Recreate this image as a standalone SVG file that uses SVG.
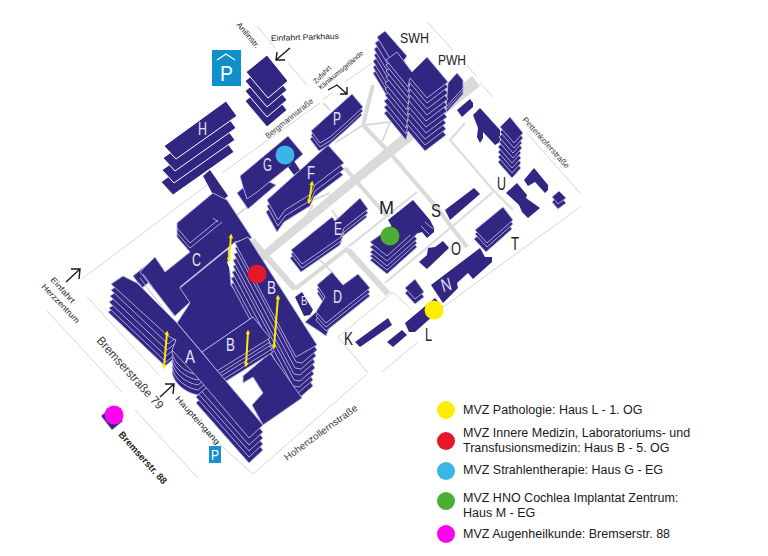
<svg xmlns="http://www.w3.org/2000/svg" xmlns:xlink="http://www.w3.org/1999/xlink" width="768" height="556" viewBox="0 0 768 556">
<style>
text{font-family:"Liberation Sans",Arial,sans-serif}
.b polygon,.b path{fill:#312783;stroke:#b9b5df;stroke-width:.9;stroke-linejoin:round}
.w polygon{fill:#312783;stroke:#fff;stroke-width:1;stroke-linejoin:round}
.n polygon{fill:#312783;stroke:none}
.h{fill:none;stroke:#b9b5df;stroke-width:.9}
.rt{fill:none;stroke:#dadada;stroke-width:6}
.rm{fill:none;stroke:#dadada;stroke-width:4}
.r2{fill:none;stroke:#dcdcdc;stroke-width:2}
.rn{fill:none;stroke:#d6d6d6;stroke-width:1}
.ar{fill:none;stroke:#1a1a1a;stroke-width:1.4}
.y{stroke:#ffed00;stroke-width:2;marker-start:url(#ya);marker-end:url(#ya)}
.l{fill:#e4e2f2;font-size:18px}
.o{fill:#222;font-size:18px}
.s{fill:#3a3a3a;font-size:8px}
.lg{fill:#1a1a1a;font-size:12.5px}
</style>
<defs><marker id="ya" viewBox="0 0 6 6" refX="3" refY="3" markerWidth="2.4" markerHeight="2.4" orient="auto-start-reverse"><path d="M0 0L6 3L0 6Z" fill="#ffed00"/></marker></defs>
<rect width="768" height="556" fill="#fff"/>
<g id="connectors">
<path d="M472 76L480 86L400 150L362 180L262 262L257 256Z" fill="#dadada"/>
<path class="rt" d="M252 240L295 289"/>
<path class="rm" d="M295 289L348 248"/>
<path class="rm" d="M363 125L390 153L437 208L467 247"/>
<path class="rm" d="M345 168L370 197L388 217"/>
<path class="rt" d="M348 250L388 294"/>
<path class="rm" d="M363 125L373 85"/>
<path class="r2" d="M365 125L390 122L382 142M335 143L363 125"/>
<path class="r2" d="M348 247L417 192M385 283L493 192"/>
<path class="r2" d="M450 140L493 190L513 210M450 140L465 123"/>
<path class="r2" d="M308 202L330 193M300 228L313 205M332 210L340 222M237 215L265 193M323 103L330 110M317 257L333 273"/>
<path class="rn" d="M427 22L453 50M465 63L477 77M480 83L493 97M527 133L580 193M580 207L435 313M418 342L382 372M368 373L338 337L393 292L412 310"/>
<path class="rn" d="M257 26L275 48M288 63L307 85M345 82L372 63M323 100L332 93M222 173L320 103M82 279L207 185M87 297L159 375M47 311L122 392M135 410L198 478M207 433L253 474L366 375"/>
</g>
<g id="haus-h" class="w">
<polygon points="164,146 226,101 237,116 176,159" transform="translate(-3,36)"/>
<polygon points="164,146 226,101 237,116 176,159" transform="translate(-2,24)"/>
<polygon points="164,146 226,101 237,116 176,159" transform="translate(-1,12)"/>
<polygon points="164,146 226,101 237,116 176,159"/>
</g>
<g class="n"><polygon points="203,176 210,170 228,196 218,204"/></g>
<g id="parkhaus" class="w">
<polygon points="246,72 267,55 288,81 268,98" transform="translate(-1,29)"/>
<polygon points="246,72 267,55 288,81 268,98" transform="translate(-1,19)"/>
<polygon points="246,72 267,55 288,81 268,98" transform="translate(-1,9)"/>
<polygon points="246,72 267,55 288,81 268,98"/>
</g>
<g id="haus-g" class="b">
<polygon points="237,193 257,176 276,185 248,209"/>
<polygon points="240,176 288,136 303,154 293,163 257,192 247,199 243,187"/>
</g>
<g class="n"><polygon points="288,167 294,161 300,170 294,175"/></g>
<g id="haus-f" class="b">
<polygon points="267,200 328,145 344,163 315,185 311,194 285,210 278,220" transform="translate(-1,12)"/>
<polygon points="267,200 328,145 344,163 315,185 311,194 285,210 278,220" transform="translate(0,6)"/>
<polygon points="267,200 328,145 344,163 315,185 311,194 285,210 278,220"/>
</g>
<g id="haus-p" class="b">
<polygon points="311,131 352,94 363,107 347,122 330,137 320,143" transform="translate(-1,8)"/>
<polygon points="311,131 352,94 363,107 347,122 330,137 320,143" transform="translate(0,4)"/>
<polygon points="311,131 352,94 363,107 347,122 330,137 320,143"/>
</g>
<g id="haus-e" class="b">
<polygon points="291,250 332,217 335,221 360,198 368,209 344,228 341,237 302,264" transform="translate(-1,8)"/>
<polygon points="291,250 332,217 335,221 360,198 368,209 344,228 341,237 302,264" transform="translate(0,4)"/>
<polygon points="291,250 332,217 335,221 360,198 368,209 344,228 341,237 302,264"/>
</g>
<g id="haus-d" class="b">
<polygon points="305,322 316,312 340,300 326,336 319,331"/>
<polygon points="317,285 332,272 343,285 358,274 370,288 326,323 316,312 325,297" transform="translate(0,8)"/>
<polygon points="317,285 332,272 343,285 358,274 370,288 326,323 316,312 325,297" transform="translate(0,4)"/>
<polygon points="317,285 332,272 343,285 358,274 370,288 326,323 316,312 325,297"/>
</g>
<g class="n"><polygon points="295,297 302,292 313,310 310,315 304,316"/></g>
<g id="haus-m" class="b">
<polygon points="370,242 380,235 405,215 417,229 387,256" transform="translate(0,18)"/>
<polygon points="370,242 380,235 405,215 417,229 387,256" transform="translate(0,14)"/>
<polygon points="370,242 380,235 405,215 417,229 387,256" transform="translate(0,10)"/>
<polygon points="370,242 380,235 405,215 417,229 387,256" transform="translate(0,5)"/>
<polygon points="370,242 380,235 405,215 417,229 387,256"/>
<polygon points="388,220 413,200 430,220 434,228 434,232 427,238 422,232 412,235 395,232" style="stroke:none"/>
</g>
<path class="h" d="M425 222L433 229M421 226L429 234"/>
<g id="kleine" class="n">
<polygon points="445,210 474,188 480,194 450,220"/>
<polygon points="419,262 427,255 428,248 435,247 443,241 449,248 427,269"/>
<polygon points="355,342 388,318 392,325 360,347"/>
<polygon points="387,342 402,330 407,335 393,347"/>
<polygon points="405,323 435,298 443,307 415,332 409,332"/>
<polygon points="431,285 480,248 485,257 492,257 492,262 473,279 468,273 457,283 458,288 443,303"/>
<polygon points="457,110 470,99 473,103 473,107 462,117"/>
<polygon points="473,115 480,108 500,130 500,142 495,145 483,132 483,138 480,143 477,137 478,128"/>
<polygon points="506,193 517,183 527,195 526,198 540,208 528,218 522,212 519,205"/>
<polygon points="524,180 534,168 548,185 548,190 545,193 535,182 528,186"/>
</g>
<g id="kleine-2" class="b">
<polygon points="405,293 415,284 424,297 415,304"/>
<polygon points="405,288 415,279 424,292 415,299"/>
<polygon points="552,202 559,195 566,203 558,209"/>
<polygon points="552,197 559,191 566,198 558,204"/>
</g>
<g id="haus-t" class="b">
<polygon points="475,230 503,207 513,220 487,243" transform="translate(-1,9)"/>
<polygon points="475,230 503,207 513,220 487,243" transform="translate(0,4)"/>
<polygon points="475,230 503,207 513,220 487,243"/>
</g>
<g id="haus-u" class="b">
<polygon points="500,127 510,117 523,133 514,143" transform="translate(-2,35)"/>
<polygon points="500,127 510,117 523,133 514,143" transform="translate(-2,30)"/>
<polygon points="500,127 510,117 523,133 514,143" transform="translate(-2,25)"/>
<polygon points="500,127 510,117 523,133 514,143" transform="translate(-2,20)"/>
<polygon points="500,127 510,117 523,133 514,143" transform="translate(-1,15)"/>
<polygon points="500,127 510,117 523,133 514,143" transform="translate(-1,10)"/>
<polygon points="500,127 510,117 523,133 514,143" transform="translate(0,5)"/>
<polygon points="500,127 510,117 523,133 514,143"/>
</g>
<g id="swh" class="b">
<polygon points="377,37 385,31 407,56 397,70" transform="translate(-4,36)"/>
<polygon points="377,37 385,31 407,56 397,70" transform="translate(-4,30)"/>
<polygon points="377,37 385,31 407,56 397,70" transform="translate(-4,24)"/>
<polygon points="377,37 385,31 407,56 397,70" transform="translate(-3,18)"/>
<polygon points="377,37 385,31 407,56 397,70" transform="translate(-3,12)"/>
<polygon points="377,37 385,31 407,56 397,70" transform="translate(-2,6)"/>
<polygon points="377,37 385,31 407,56 397,70"/>
</g>
<g id="pwh" class="b">
<polygon points="448,83 457,73 463,80 463,88 446,107" transform="translate(0,6)"/>
<polygon points="448,83 457,73 463,80 463,88 446,107" transform="translate(0,3)"/>
<polygon points="448,83 457,73 463,80 463,88 446,107"/>
<polygon points="386,60 397,52 412,72 427,57 448,82 427,98 410,78 408,87" transform="translate(-2,53)"/>
<polygon points="386,60 397,52 412,72 427,57 448,82 427,98 410,78 408,87" transform="translate(-2,47)"/>
<polygon points="386,60 397,52 412,72 427,57 448,82 427,98 410,78 408,87" transform="translate(-2,41)"/>
<polygon points="386,60 397,52 412,72 427,57 448,82 427,98 410,78 408,87" transform="translate(-1,35)"/>
<polygon points="386,60 397,52 412,72 427,57 448,82 427,98 410,78 408,87" transform="translate(-1,29)"/>
<polygon points="386,60 397,52 412,72 427,57 448,82 427,98 410,78 408,87" transform="translate(-1,23)"/>
<polygon points="386,60 397,52 412,72 427,57 448,82 427,98 410,78 408,87" transform="translate(0,17)"/>
<polygon points="386,60 397,52 412,72 427,57 448,82 427,98 410,78 408,87" transform="translate(0,11)"/>
<polygon points="386,60 397,52 412,72 427,57 448,82 427,98 410,78 408,87" transform="translate(0,5)"/>
<polygon points="386,60 397,52 412,72 427,57 448,82 427,98 410,78 408,87"/>
</g>
<g id="haus-c" class="b">
<polygon points="133,276 155,258 164,270 142,288"/>
<polygon points="177,223 213,193 227,200 252,238 235,242 180,287 190,302 175,316 140,272 155,257 165,272 190,252 177,237"/>
</g>
<path class="h" d="M177 228L190 243L218 220M177 233L190 248L222 222M213 218L218 222M143 274L174 316M140 278L172 320M139 283L171 325M133 283L165 327"/>
<g id="haus-a-fluegel" class="b">
<polygon points="111,284 123,276 178,330 168,338" transform="translate(-3,28)"/>
<polygon points="111,284 123,276 178,330 168,338" transform="translate(-2,24)"/>
<polygon points="111,284 123,276 178,330 168,338" transform="translate(-2,18)"/>
<polygon points="111,284 123,276 178,330 168,338" transform="translate(-1,12)"/>
<polygon points="111,284 123,276 178,330 168,338" transform="translate(0,6)"/>
<polygon points="196,378 210,365 263,425 249,438" transform="translate(0,25)"/>
<polygon points="196,378 210,365 263,425 249,438" transform="translate(0,19)"/>
<polygon points="196,378 210,365 263,425 249,438" transform="translate(0,13)"/>
<polygon points="196,378 210,365 263,425 249,438" transform="translate(0,7)"/>
<path d="M172 352C174 364 186 373 198 375L215 360L190 330Z" transform="translate(0,20)"/>
<path d="M172 352C174 364 186 373 198 375L215 360L190 330Z" transform="translate(0,15)"/>
<path d="M172 352C174 364 186 373 198 375L215 360L190 330Z" transform="translate(0,10)"/>
<path d="M172 352C174 364 186 373 198 375L215 360L190 330Z" transform="translate(0,5)"/>
<path d="M172 352C174 364 186 373 198 375L215 360L190 330Z"/>
</g>
<g id="haus-b" class="b">
<polygon points="180,288 228,249 231,285 253,317 202,352 177,323 190,303"/>
<polygon points="235,243 248,237 317,345 302,358 296,357" transform="translate(-4,41)"/>
<polygon points="235,243 248,237 317,345 302,358 296,357" transform="translate(-4,35)"/>
<polygon points="235,243 248,237 317,345 302,358 296,357" transform="translate(-3,29)"/>
<polygon points="235,243 248,237 317,345 302,358 296,357" transform="translate(-2,23)"/>
<polygon points="235,243 248,237 317,345 302,358 296,357" transform="translate(-2,17)"/>
<polygon points="235,243 248,237 317,345 302,358 296,357" transform="translate(-1,11)"/>
<polygon points="235,243 248,237 317,345 302,358 296,357" transform="translate(0,5)"/>
<polygon points="235,243 248,237 317,345 296,357"/>
<polygon points="243,376 270,353 302,398 263,425 252,405 263,393 253,377 243,383"/>
<polygon points="202,352 253,317 270,338 217,371" transform="translate(3,14)"/>
<polygon points="202,352 253,317 270,338 217,371" transform="translate(2,11)"/>
<polygon points="202,352 253,317 270,338 217,371" transform="translate(1,7)"/>
<polygon points="202,352 253,317 270,338 217,371" transform="translate(0,4)"/>
<polygon points="202,352 253,317 270,338 217,371"/>
</g>
<g id="haus-a" class="b">
<polygon points="111,284 123,276 137,283 177,323 263,425 249,438 198,378 172,350 176,340 168,336"/>
</g>
<path d="M227 262L231 258L233 268L230 270Z" fill="#fff"/>
<g id="augen" class="b"><polygon points="101,416 110,408 123,421 112,430"/></g>
<g id="labels">
<text class="l" x="198" y="135" textLength="9" lengthAdjust="spacingAndGlyphs">H</text>
<text class="l" x="263" y="171" textLength="9" lengthAdjust="spacingAndGlyphs">G</text>
<text class="l" x="307" y="179" textLength="8" lengthAdjust="spacingAndGlyphs">F</text>
<text class="l" x="333" y="125" textLength="8" lengthAdjust="spacingAndGlyphs">P</text>
<text class="l" x="334" y="235" textLength="8" lengthAdjust="spacingAndGlyphs">E</text>
<text class="l" x="333" y="303" textLength="9" lengthAdjust="spacingAndGlyphs">D</text>
<text class="l" x="301" y="305" textLength="6.5" lengthAdjust="spacingAndGlyphs" style="font-size:13px">B</text>
<text class="l" x="192" y="266" textLength="9" lengthAdjust="spacingAndGlyphs">C</text>
<text class="l" x="267" y="294" textLength="9" lengthAdjust="spacingAndGlyphs">B</text>
<text class="l" x="226" y="351" textLength="9" lengthAdjust="spacingAndGlyphs">B</text>
<text class="l" x="185" y="363" textLength="10" lengthAdjust="spacingAndGlyphs">A</text>
<text class="l" transform="translate(443,292) rotate(-15)" textLength="10" lengthAdjust="spacingAndGlyphs">N</text>
<text class="o" x="379" y="214" textLength="15" lengthAdjust="spacingAndGlyphs">M</text>
<text class="o" x="431" y="217" textLength="10" lengthAdjust="spacingAndGlyphs">S</text>
<text class="o" x="451" y="255" textLength="10" lengthAdjust="spacingAndGlyphs">O</text>
<text class="o" x="511" y="250" textLength="8" lengthAdjust="spacingAndGlyphs">T</text>
<text class="o" x="497" y="190" textLength="9" lengthAdjust="spacingAndGlyphs">U</text>
<text class="o" x="344" y="345" textLength="9" lengthAdjust="spacingAndGlyphs">K</text>
<text class="o" x="425" y="341" textLength="7" lengthAdjust="spacingAndGlyphs">L</text>
<text class="o" x="400" y="43" textLength="29" lengthAdjust="spacingAndGlyphs" style="font-size:15px">SWH</text>
<text class="o" x="438" y="65" textLength="28" lengthAdjust="spacingAndGlyphs" style="font-size:14px">PWH</text>
<text class="s" transform="translate(271,41) rotate(-2)" textLength="68" lengthAdjust="spacingAndGlyphs" style="fill:#222">Einfahrt Parkhaus</text>
<text class="s" transform="translate(236,25) rotate(50)" textLength="31" lengthAdjust="spacingAndGlyphs" style="fill:#222">Anilinstr.</text>
<text class="s" transform="translate(316,84) rotate(-45)" textLength="22" lengthAdjust="spacingAndGlyphs" style="font-size:7px;fill:#222">Zufahrt</text>
<text class="s" transform="translate(321,90) rotate(-40)" textLength="56" lengthAdjust="spacingAndGlyphs" style="font-size:7px;fill:#222">Klinikumsgelände</text>
<text class="s" transform="translate(268,139) rotate(-39)" textLength="59" lengthAdjust="spacingAndGlyphs">Bergmannstraße</text>
<text class="s" transform="translate(522,120) rotate(48)" textLength="66" lengthAdjust="spacingAndGlyphs">Pettenkoferstraße</text>
<text class="s" transform="translate(50,280) rotate(48)" textLength="32" lengthAdjust="spacingAndGlyphs" style="fill:#222">Einfahrt</text>
<text class="s" transform="translate(41,287) rotate(46)" textLength="51" lengthAdjust="spacingAndGlyphs" style="fill:#222">Herzzentrum</text>
<text class="s" transform="translate(96,341) rotate(48)" textLength="93" lengthAdjust="spacingAndGlyphs" style="font-size:12px">Bremserstraße 79</text>
<text class="s" transform="translate(175,399) rotate(48)" textLength="62" lengthAdjust="spacingAndGlyphs" style="fill:#222">Haupteingang</text>
<text class="s" transform="translate(118,435) rotate(48)" textLength="67" lengthAdjust="spacingAndGlyphs" style="font-size:9.5px;font-weight:bold;fill:#222">Bremserstr. 88</text>
<text class="s" transform="translate(287,461) rotate(-36)" textLength="88" lengthAdjust="spacingAndGlyphs" style="font-size:9.5px">Hohenzollernstraße</text>
</g>
<g id="pfeile">
<path class="ar" d="M66 282L80 269M71 269H80L79 279"/>
<path class="ar" d="M160 397L174 384M165 384H174L173 394"/>
<path class="ar" d="M290 48L276 60M277 52L276 60H285"/>
<path class="ar" d="M328 90L337 85L347 94M340 94H347V87"/>
<path class="y" d="M231 236L229 260"/><path class="y" d="M167 333L164 367"/><path class="y" d="M248 332L246 365"/><path class="y" d="M278 297L274 347"/><path class="y" d="M312 183L309 202"/>
</g>
<g id="p-schilder">
<rect x="212" y="50" width="29" height="36" fill="#0f8fcb"/>
<path d="M217 60L226 54L235 60" fill="none" stroke="#fff" stroke-width="1.2"/>
<text x="220" y="81" textLength="13" lengthAdjust="spacingAndGlyphs" style="font-size:22px;fill:#fff">P</text>
<rect x="209" y="446" width="12" height="17" fill="#1890cc"/>
<text x="211" y="460" textLength="8" lengthAdjust="spacingAndGlyphs" style="font-size:14px;fill:#fff">P</text>
</g>
<g id="marker">
<circle cx="285" cy="155" r="9.5" fill="#39b5e6"/><circle cx="390" cy="236" r="9.5" fill="#4caf35"/><circle cx="257" cy="274" r="9.5" fill="#e5172a"/><circle cx="434" cy="310" r="9.5" fill="#ffed00"/><circle cx="114" cy="415" r="9.5" fill="#ff00ee"/>
</g>
<g id="legende">
<circle cx="446" cy="410" r="9" fill="#ffed00"/><circle cx="446" cy="441" r="9" fill="#e5172a"/><circle cx="446" cy="471" r="9" fill="#39b5e6"/><circle cx="446" cy="501" r="9" fill="#4caf35"/><circle cx="446" cy="534" r="9" fill="#ff00ee"/>
<text class="lg" x="463" y="414">MVZ Pathologie: Haus L - 1. OG</text>
<text class="lg" x="463" y="437">MVZ Innere Medizin, Laboratoriums- und</text>
<text class="lg" x="463" y="452">Transfusionsmedizin: Haus B - 5. OG</text>
<text class="lg" x="463" y="474">MVZ Strahlentherapie: Haus G - EG</text>
<text class="lg" x="463" y="502">MVZ HNO Cochlea Implantat Zentrum:</text>
<text class="lg" x="463" y="517">Haus M - EG</text>
<text class="lg" x="463" y="538">MVZ Augenheilkunde: Bremserstr. 88</text>
</g>
</svg>
